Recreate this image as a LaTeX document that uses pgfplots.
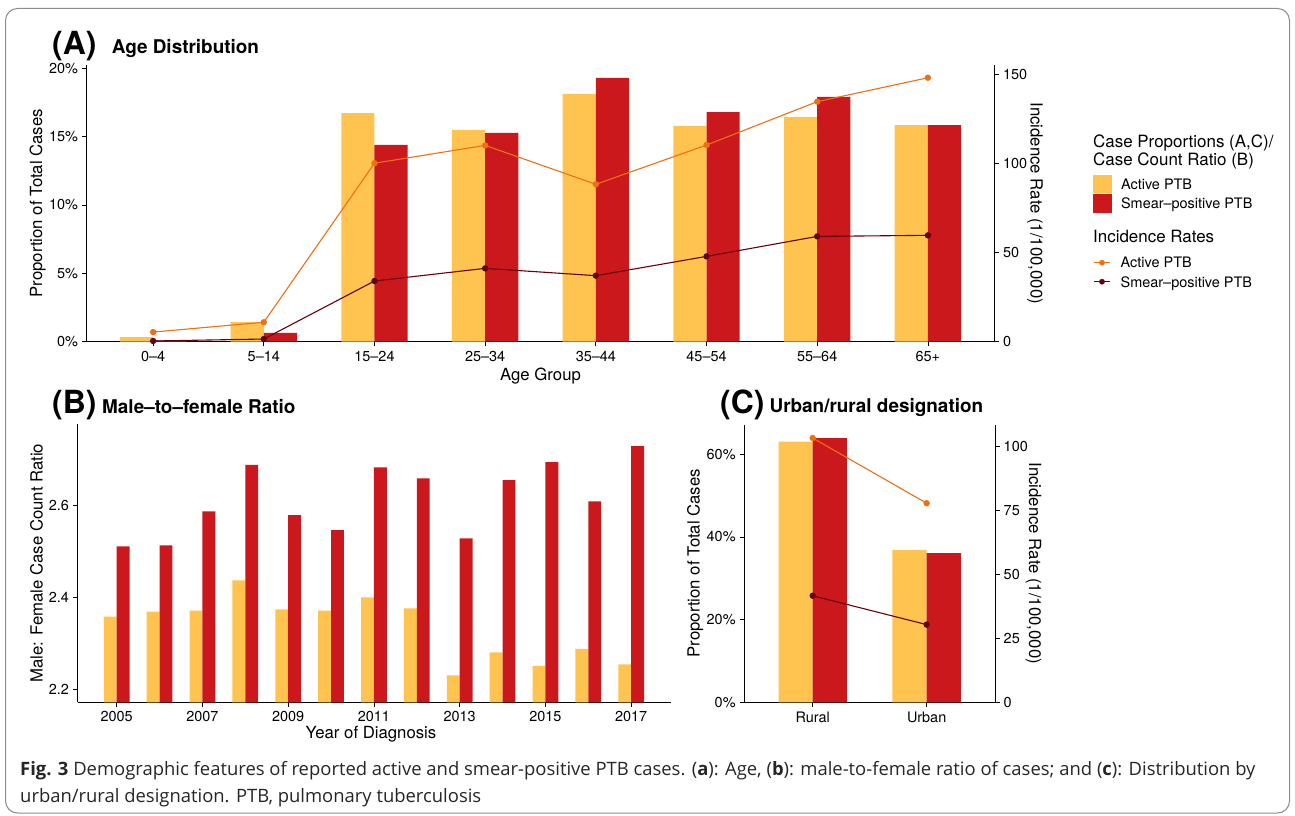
\documentclass[border=0pt]{standalone}
\usepackage{fontspec}
\setmainfont{TeX Gyre Heros}
\newfontfamily\capfont{Open Sans}
\usepackage{pgfplots}
\pgfplotsset{compat=1.18}

\definecolor{ptbyel}{HTML}{FEC44F}
\definecolor{ptbred}{HTML}{CB181D}
\definecolor{lnora}{HTML}{EC7014}
\definecolor{lndark}{HTML}{67000D}

\newcommand{\ticksize}{\fontsize{14.5}{17}\selectfont}
\newcommand{\labsize}{\fontsize{16.8}{20}\selectfont}
\newcommand{\ttlsize}{\bfseries\fontsize{19}{22}\selectfont}
\newcommand{\letsize}{\bfseries\fontsize{32}{36}\selectfont}

\pgfplotsset{
  ggbase/.style={
    scale only axis,
    tick align=outside,
    major tick length=4.5bp,
    tick style={black, line width=0.8bp},
    axis line style={-, black, line width=0.8bp},
    tick label style={font=\ticksize, inner sep=0pt, text=black},
    minor tick num=0,
    xticklabel shift=4.5bp,
    yticklabel shift=4bp,
  },
  incline/.style={line width=1.1bp, mark=*, mark size=2.6bp, mark options={solid}},
  barleg/.style={legend image code/.code={\fill[#1] (0bp,-8.65bp) rectangle (18bp,8.65bp);}},
  lineleg/.style={legend image code/.code={\path[draw=none, fill=none] (0bp,-8.65bp) rectangle (18bp,8.65bp);
      \draw[#1, line width=1.1bp] (1.3bp,0bp) -- (17.3bp,0bp);
      \fill[#1] (9.3bp,0bp) circle (2.6bp);}},
  myleg/.style={legend cell align=left,
    legend style={at={#1}, anchor=north west, draw=none, fill=none, inner sep=0pt, outer sep=0pt,
      font=\ticksize, row sep=1.7bp, nodes={inner sep=0pt, text depth=0pt},
      /tikz/every odd column/.append style={column sep=10bp}}},
}

\begin{document}
\begin{tikzpicture}[x=1bp,y=1bp]
\useasboundingbox (0,0) rectangle (1295,-816);
\draw[black!45, line width=1bp, rounded corners=12bp] (5.5,-8.5) rectangle (1289.5,-813);

% ---------------- Panel A ----------------
\begin{axis}[ggbase, at={(86.7bp,-341.7bp)}, anchor=south west, width=907.6bp, height=276.7bp,
  xmin=-0.6, xmax=7.6, ymin=0, ymax=20.24,
  axis x line*=bottom, axis y line*=left,
  xtick={0,1,2,3,4,5,6,7},
  xticklabels={0–4,5–14,15–24,25–34,35–44,45–54,55–64,65+},
  ytick={0,5,10,15,20}, yticklabels={0\%,5\%,10\%,15\%,20\%},
  ybar, bar width=0.3,
  myleg={(1.1084,0.6025)}]
\addplot[fill=ptbyel, draw=none, bar shift=-0.15, forget plot] coordinates
  {(0,0.34) (1,1.44) (2,16.72) (3,15.49) (4,18.12) (5,15.78) (6,16.44) (7,15.85)};
\addplot[fill=ptbred, draw=none, bar shift=0.15, forget plot] coordinates
  {(0,0.10) (1,0.64) (2,14.39) (3,15.27) (4,19.29) (5,16.80) (6,17.90) (7,15.85)};
\addlegendimage{barleg=ptbyel}
\addlegendentry{Active PTB}
\addlegendimage{barleg=ptbred}
\addlegendentry{Smear–positive PTB}
\end{axis}
\begin{axis}[ggbase, at={(86.7bp,-341.7bp)}, anchor=south west, width=907.6bp, height=276.7bp,
  xmin=-0.6, xmax=7.6, ymin=0, ymax=155.04,
  axis x line=none, axis y line*=right,
  ytick={0,50,100,150}, yticklabels={0,50,100,150},
  myleg={(1.1084,0.31677)}]
\addplot[incline, color=lnora, forget plot] coordinates
  {(0,5.4) (1,10.9) (2,100.0) (3,110.0) (4,88.2) (5,110.2) (6,134.5) (7,147.9)};
\addplot[incline, color=lndark, forget plot] coordinates
  {(0,0.4) (1,1.5) (2,34.0) (3,41.1) (4,37.0) (5,47.8) (6,59.0) (7,59.6)};
\addlegendimage{lineleg=lnora}
\addlegendentry{Active PTB}
\addlegendimage{lineleg=lndark}
\addlegendentry{Smear–positive PTB}
\end{axis}

\node[anchor=base west, font=\letsize, inner sep=0pt] at (52,-55) {(A)};
\node[anchor=base west, font=\ttlsize, inner sep=0pt] at (111.7,-53.3) {Age Distribution};
\node[rotate=90, anchor=base, font=\labsize, inner sep=0pt] at (42,-203.3) {Proportion of Total Cases};
\node[anchor=base, font=\labsize, inner sep=0pt] at (540.5,-380) {Age Group};
\node[rotate=-90, anchor=base, font=\labsize, inner sep=0pt] at (1030.5,-203.3) {Incidence Rate (1/100,000)};

% legend titles
\node[anchor=base west, font=\fontsize{17}{20}\selectfont, inner sep=0pt] at (1093,-147.3) {Case Proportions (A,C)/};
\node[anchor=base west, font=\fontsize{17}{20}\selectfont, inner sep=0pt] at (1093,-165) {Case Count Ratio (B)};
\node[anchor=base west, font=\fontsize{17}{20}\selectfont, inner sep=0pt] at (1093,-242.7) {Incidence Rates};

% ---------------- Panel B ----------------
\begin{axis}[ggbase, at={(77.7bp,-702.3bp)}, anchor=south west, width=593.3bp, height=278bp,
  xmin=2004.09, xmax=2017.93, ymin=2.1725, ymax=2.7775,
  axis x line*=bottom, axis y line*=left,
  xtick={2005,2007,2009,2011,2013,2015,2017},
  xticklabels={2005,2007,2009,2011,2013,2015,2017},
  ytick={2.2,2.4,2.6}, yticklabels={2.2,2.4,2.6},
  ybar, bar width=0.3]
\addplot[fill=ptbyel, draw=none, bar shift=-0.15] coordinates
  {(2005,2.359) (2006,2.370) (2007,2.372) (2008,2.438) (2009,2.375) (2010,2.372) (2011,2.401)
   (2012,2.377) (2013,2.231) (2014,2.281) (2015,2.252) (2016,2.289) (2017,2.255)};
\addplot[fill=ptbred, draw=none, bar shift=0.15] coordinates
  {(2005,2.512) (2006,2.514) (2007,2.588) (2008,2.689) (2009,2.580) (2010,2.547) (2011,2.684)
   (2012,2.660) (2013,2.529) (2014,2.656) (2015,2.695) (2016,2.610) (2017,2.730)};
\end{axis}
\node[anchor=base west, font=\letsize, inner sep=0pt] at (52,-413.5) {(B)};
\node[anchor=base west, font=\ttlsize, inner sep=0pt] at (102,-413.3) {Male–to–female Ratio};
\node[rotate=90, anchor=base, font=\labsize, inner sep=0pt] at (42.5,-563.3) {Male: Female Case Count Ratio};
\node[anchor=base, font=\labsize, inner sep=0pt] at (371,-738) {Year of Diagnosis};

% ---------------- Panel C ----------------
\begin{axis}[ggbase, at={(744.3bp,-702.3bp)}, anchor=south west, width=250.7bp, height=277.3bp,
  xmin=-0.6, xmax=1.6, ymin=0, ymax=67.1,
  axis x line*=bottom, axis y line*=left,
  xtick={0,1}, xticklabels={Rural,Urban},
  ytick={0,20,40,60}, yticklabels={0\%,20\%,40\%,60\%},
  ybar, bar width=0.3]
\addplot[fill=ptbyel, draw=none, bar shift=-0.15] coordinates {(0,63.1) (1,36.9)};
\addplot[fill=ptbred, draw=none, bar shift=0.15] coordinates {(0,63.9) (1,36.1)};
\end{axis}
\begin{axis}[ggbase, at={(744.3bp,-702.3bp)}, anchor=south west, width=250.7bp, height=277.3bp,
  xmin=-0.6, xmax=1.6, ymin=0, ymax=108.5,
  axis x line=none, axis y line*=right,
  ytick={0,25,50,75,100}, yticklabels={0,25,50,75,100}]
\addplot[incline, color=lnora] coordinates {(0,103.4) (1,77.9)};
\addplot[incline, color=lndark] coordinates {(0,41.7) (1,30.4)};
\end{axis}
\node[anchor=base west, font=\letsize, inner sep=0pt] at (720,-413.3) {(C)};
\node[anchor=base west, font=\ttlsize, inner sep=0pt] at (769.3,-412.7) {Urban/rural designation};
\node[rotate=90, anchor=base, font=\labsize, inner sep=0pt] at (699.5,-563.3) {Proportion of Total Cases};
\node[rotate=-90, anchor=base, font=\labsize, inner sep=0pt] at (1029,-563.3) {Incidence Rate (1/100,000)};

% ---------------- Caption ----------------
\node[anchor=base west, font=\capfont\fontsize{18.5}{22}\selectfont, inner sep=0pt, text=black!85] at (20,-775.8)
  {\textbf{Fig. 3} Demographic features of reported active and smear-positive PTB cases. (\textbf{a}): Age, (\textbf{b}): male-to-female ratio of cases; and (\textbf{c}): Distribution by};
\node[anchor=base west, font=\capfont\fontsize{18.5}{22}\selectfont, inner sep=0pt, text=black!85] at (20,-802.8)
  {urban/rural designation. PTB, pulmonary tuberculosis};
\end{tikzpicture}
\end{document}
